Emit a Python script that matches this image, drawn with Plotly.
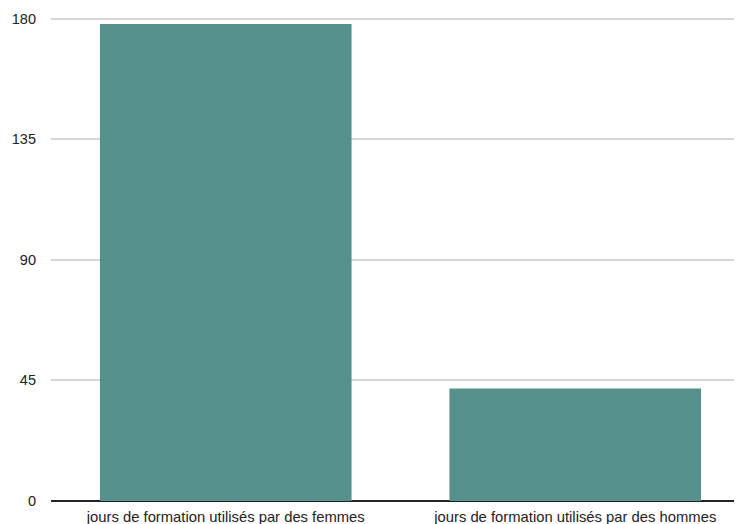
import plotly.graph_objects as go

categories = ["jours de formation utilisés par des femmes",
              "jours de formation utilisés par des hommes"]
values = [178, 42]
tick_vals = [0, 45, 90, 135, 180]

fig = go.Figure(go.Bar(x=categories, y=values, marker_color="#55918a",
                       marker_line_width=0))

fig.update_layout(
    width=742, height=524,
    margin=dict(l=43, r=0, t=8, b=31),
    plot_bgcolor="white", paper_bgcolor="white",
    bargap=0.28,
    showlegend=False,
    font=dict(family="Liberation Sans, Arial, sans-serif", size=13, color="#222"),
)
fig.update_xaxes(range=[-0.5, 1.5], showgrid=False, showline=False,
                 ticks="", tickfont=dict(size=14.8), ticklabelstandoff=5)
fig.update_yaxes(range=[0, 181], tickvals=tick_vals, showgrid=True,
                 gridcolor="#d6d6d6", gridwidth=1.5, zeroline=True,
                 zerolinecolor="#222", zerolinewidth=1.5,
                 tickfont=dict(size=14.5), ticklabelstandoff=14, showline=False)

fig.write_html("out.html")
